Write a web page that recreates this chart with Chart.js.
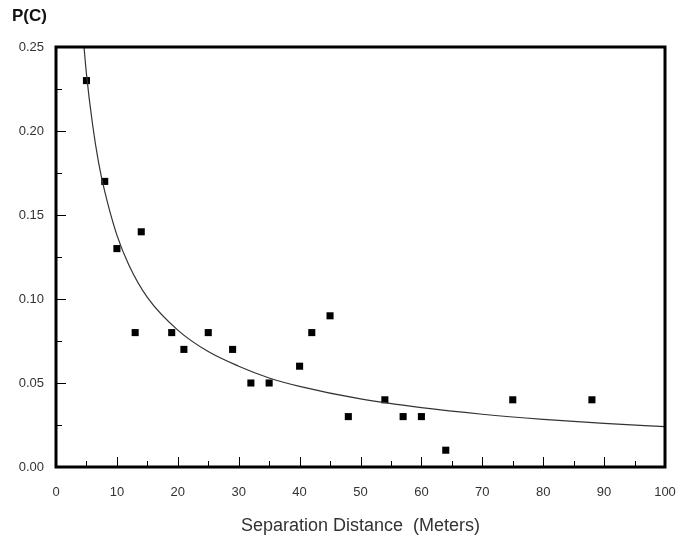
<!DOCTYPE html>
<html lang="en">
<head>
    <meta charset="UTF-8">
    <title>P(C) vs Separation Distance</title>
    <script src="https://cdn.jsdelivr.net/npm/chart.js"></script>
    <style>
        html, body { margin: 0; padding: 0; background: #fff; }
        #wrap { width: 680px; height: 541px; }
    </style>
</head>
<body>
    <div id="wrap"><canvas id="pcChart" width="680" height="541"></canvas></div>

    <script>
        // observed points
        const distances = [5, 8, 10, 13, 14, 19, 21, 25, 29, 32, 35, 40, 42, 45, 48, 54, 57, 60, 64, 75, 88];
        const probs = [0.23, 0.17, 0.13, 0.08, 0.14, 0.08, 0.07, 0.08, 0.07, 0.05, 0.05, 0.06, 0.08, 0.09, 0.03, 0.04, 0.03, 0.03, 0.01, 0.04, 0.04];

        // fitted curve
        const curveX = [4.6, 5, 6, 7, 8, 10, 12, 15, 20, 25, 30, 35, 40, 50, 60, 70, 80, 90, 100];
        const curveY = [0.25, 0.234, 0.204, 0.181, 0.164, 0.138, 0.120, 0.101, 0.0815, 0.0687, 0.060, 0.053, 0.048, 0.0405, 0.0353, 0.0314, 0.0284, 0.026, 0.024];

        const xTicks = [0, 10, 20, 30, 40, 50, 60, 70, 80, 90, 100];
        const yTicks = [0, 0.05, 0.10, 0.15, 0.20, 0.25];

        const tickFont = { family: "'Liberation Sans Narrow', 'Liberation Sans', Arial, sans-serif", size: 13 };

        // frame + inward tick marks + "P(C)" label
        const framePlugin = {
            id: 'frame',
            afterDraw(chart) {
                const ctx = chart.ctx;
                const a = chart.chartArea;
                const xs = chart.scales.x, ys = chart.scales.y;
                ctx.save();
                ctx.strokeStyle = '#000';
                ctx.lineWidth = 1;
                for (let v = 0; v <= 100; v += 5) {
                    const px = Math.round(xs.getPixelForValue(v)) + 0.5;
                    const len = v % 10 === 0 ? 10 : 6;
                    ctx.beginPath();
                    ctx.moveTo(px, a.bottom);
                    ctx.lineTo(px, a.bottom - len);
                    ctx.stroke();
                }
                for (let i = 0; i <= 10; i++) {
                    const v = i * 0.025;
                    const py = Math.round(ys.getPixelForValue(v)) + 0.5;
                    const len = i % 2 === 0 ? 10 : 6;
                    ctx.beginPath();
                    ctx.moveTo(a.left, py);
                    ctx.lineTo(a.left + len, py);
                    ctx.stroke();
                }
                ctx.lineWidth = 3;
                ctx.strokeRect(a.left, a.top, a.right - a.left, a.bottom - a.top);

                ctx.fillStyle = '#111';
                ctx.font = "bold 17px 'Liberation Sans', Arial, sans-serif";
                ctx.textBaseline = 'middle';
                ctx.fillText('P(C)', 12, 16);
                ctx.restore();
            }
        };

        new Chart(document.getElementById('pcChart').getContext('2d'), {
            type: 'scatter',
            data: {
                datasets: [{
                    label: 'Fit',
                    type: 'line',
                    data: curveX.map((x, i) => ({ x: x, y: curveY[i] })),
                    borderColor: '#333',
                    borderWidth: 1.2,
                    pointRadius: 0,
                    cubicInterpolationMode: 'monotone',
                    fill: false
                }, {
                    label: 'Observed',
                    data: distances.map((x, i) => ({ x: x, y: probs[i] })),
                    pointStyle: 'rect',
                    pointRadius: 5,
                    backgroundColor: '#000',
                    borderColor: '#000',
                    borderWidth: 0
                }]
            },
            options: {
                responsive: false,
                animation: false,
                layout: { padding: { left: 0, right: 15, top: 47, bottom: 0 } },
                plugins: {
                    legend: { display: false },
                    tooltip: { enabled: false }
                },
                scales: {
                    x: {
                        type: 'linear',
                        min: 0,
                        max: 100,
                        afterBuildTicks: s => { s.ticks = xTicks.map(v => ({ value: v })); },
                        afterFit: s => { s.height = 74; s.paddingLeft = 0; s.paddingRight = 0; },
                        grid: { display: false, drawTicks: false },
                        border: { display: false },
                        ticks: { font: tickFont, color: '#333', padding: 18 },
                        title: {
                            display: true,
                            text: 'Separation Distance  (Meters)',
                            font: { family: "'Liberation Sans', Arial, sans-serif", size: 18 },
                            color: '#333',
                            padding: { top: 10 }
                        }
                    },
                    y: {
                        min: 0,
                        max: 0.25,
                        afterBuildTicks: s => { s.ticks = yTicks.map(v => ({ value: v })); },
                        afterFit: s => { s.width = 56; s.paddingTop = 0; s.paddingBottom = 0; },
                        grid: { display: false, drawTicks: false },
                        border: { display: false },
                        ticks: {
                            font: tickFont,
                            color: '#333',
                            padding: 12,
                            callback: v => v.toFixed(2)
                        }
                    }
                }
            },
            plugins: [framePlugin]
        });
    </script>
</body>
</html>
